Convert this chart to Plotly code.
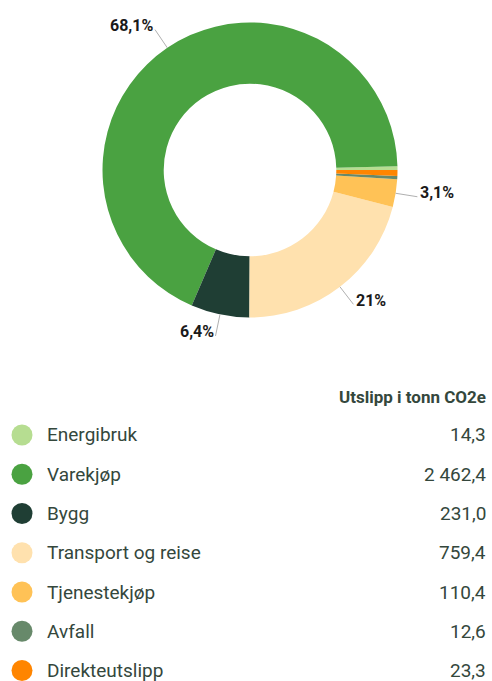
import math
import plotly.graph_objects as go

# ---------------- data ----------------
categories = ["Energibruk", "Varekjøp", "Bygg", "Transport og reise",
              "Tjenestekjøp", "Avfall", "Direkteutslipp"]
values = [14.3, 2462.4, 231.0, 759.4, 110.4, 12.6, 23.3]
colors = ["#b6dd91", "#4aa241", "#1f3e34", "#ffe1ae", "#ffc256", "#67896a", "#ff8500"]
header = "Utslipp i tonn CO2e"

# ---------------- helpers ----------------
def fmt_value(v):
    return f"{v:,.1f}".replace(",", " ").replace(".", ",")

def fmt_pct(p):
    s = f"{p:.1f}"
    if s.endswith(".0"):
        s = s[:-2]
    return s.replace(".", ",") + "%"

W, H = 492, 681
CX, CY, R = 250, 170, 147.5          # donut geometry in px
total = sum(values)
rotation = 90 - 360 * values[0] / total

fig = go.Figure()

fig.add_trace(go.Pie(
    labels=categories,
    values=values,
    sort=False,
    direction="counterclockwise",
    rotation=rotation,
    hole=0.585,
    marker=dict(colors=colors, line=dict(width=0)),
    textinfo="none",
    hoverinfo="label+value",
    domain=dict(x=[(CX - R) / W, (CX + R) / W],
                y=[1 - (CY + R) / H, 1 - (CY - R) / H]),
    showlegend=False,
))

def px2paper(x, y):
    return x / W, 1 - y / H

# percentage labels with leader lines (positions derived from data angles)
annotations = []
shapes = []
cum = 0.0
L = 22
for cat, v in zip(categories, values):
    a0 = 360 * cum / total
    cum += v
    a1 = 360 * cum / total
    pct = 100 * v / total
    if pct < 3:
        continue
    mid = math.radians((a0 + a1) / 2)
    c, s = math.cos(mid), math.sin(mid)
    x0, y0 = px2paper(CX + R * c, CY - R * s)
    x1, y1 = px2paper(CX + (R + L) * c, CY - (R + L) * s)
    shapes.append(dict(type="line", xref="paper", yref="paper",
                       x0=x0, y0=y0, x1=x1, y1=y1,
                       line=dict(color="#b0b0b0", width=1)))
    annotations.append(dict(
        x=x1, y=y1, xref="paper", yref="paper", showarrow=False,
        text=fmt_pct(pct), xanchor="left" if c > 0 else "right",
        yanchor="middle", yshift=4, xshift=1 if c > 0 else 0,
        font=dict(family="Roboto", size=16, color="#1a1a1a", weight="bold"),
    ))

# legend table
fig.add_trace(go.Scatter(
    x=[22] * len(categories), y=categories,
    mode="markers",
    marker=dict(size=21, color=colors, line=dict(width=0)),
    hoverinfo="skip", showlegend=False,
    xaxis="x", yaxis="y",
))

TXT = "#34473c"
for cat, v in zip(categories, values):
    annotations.append(dict(
        x=45, y=cat, xref="x", yref="y", showarrow=False,
        text=cat, xanchor="left", yanchor="middle",
        font=dict(family="Roboto", size=19, color=TXT),
    ))
    annotations.append(dict(
        x=488, y=cat, xref="x", yref="y", showarrow=False,
        text=fmt_value(v), xanchor="right", yanchor="middle",
        font=dict(family="Roboto", size=19, color=TXT),
    ))

annotations.append(dict(
    x=488, y=1 - 397 / H, xref="x", yref="paper", showarrow=False,
    text=header, xanchor="right", yanchor="middle",
    font=dict(family="Roboto", size=17, color=TXT, weight="bold"),
))

ROW0, STEP = 435, 39.25
dom_top = 0.4
top_px = H * (1 - dom_top)
y_top = -(ROW0 - top_px) / STEP
y_bot = (len(categories) - 1) + (H - (ROW0 + STEP * (len(categories) - 1))) / STEP

fig.update_layout(
    width=W, height=H,
    margin=dict(l=0, r=0, t=0, b=0),
    paper_bgcolor="white", plot_bgcolor="white",
    font=dict(family="Roboto"),
    xaxis=dict(domain=[0, 1], range=[0, W], visible=False, fixedrange=True),
    yaxis=dict(domain=[0, dom_top], type="category", categoryarray=categories,
               categoryorder="array", range=[y_bot, y_top], visible=False,
               fixedrange=True),
    annotations=annotations,
    shapes=shapes,
    showlegend=False,
)

fig.write_html(
    "out.html",
    config={"displayModeBar": False},
    post_script="document.body.style.margin='0';document.body.style.overflow='hidden';",
)
